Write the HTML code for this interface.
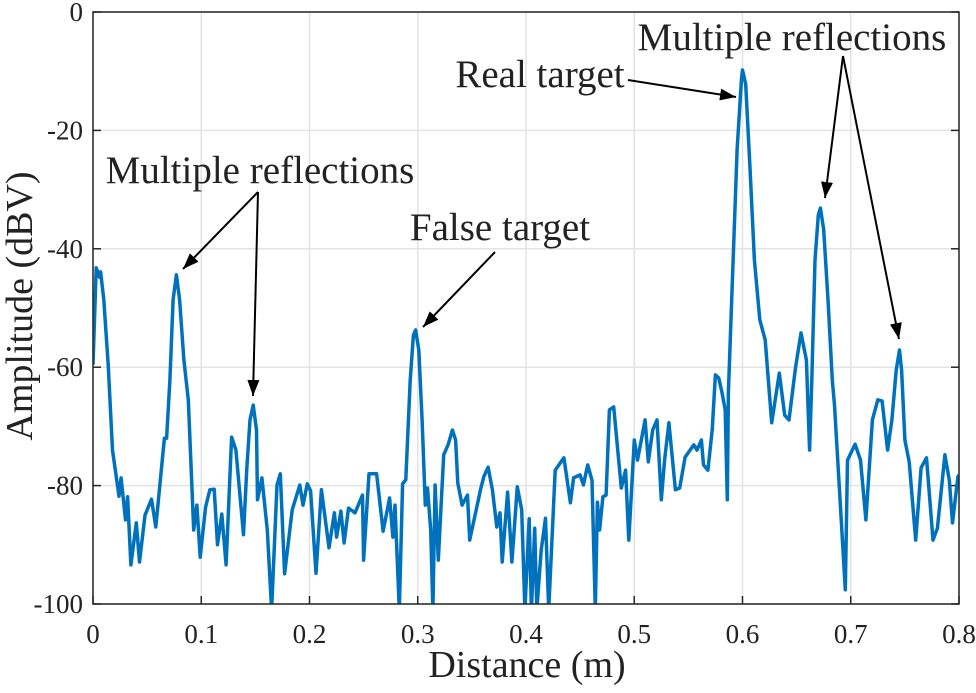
<!DOCTYPE html>
<html><head><meta charset="utf-8"><style>
body{margin:0;background:#fff}
svg text{font-family:"Liberation Serif",serif;fill:#222}
</style></head><body>
<svg id="chart" width="976" height="688" viewBox="0 0 976 688" xmlns="http://www.w3.org/2000/svg">
<defs>
<clipPath id="clip"><rect x="93" y="12" width="866" height="592"/></clipPath>
<marker id="ah" markerWidth="16" markerHeight="12" refX="16" refY="6" orient="auto" markerUnits="userSpaceOnUse"><path d="M0,0 L16,6 L0,12 Z" fill="#000"/></marker>
</defs>
<g id="grid"></g>
<g id="ticks"></g>
<path id="series" fill="none" stroke="#0072BD" stroke-width="3.5" stroke-linejoin="round" clip-path="url(#clip)"/>
<rect x="93" y="12" width="866" height="592" fill="none" stroke="#262626" stroke-width="1.5"/>
<text x="527" y="677" font-size="38" text-anchor="middle">Distance (m)</text>
<text transform="translate(32,306) rotate(-90)" font-size="38" text-anchor="middle">Amplitude (dBV)</text>
<g>
<text x="260" y="183" text-anchor="middle" font-size="39">Multiple reflections</text>
<text x="500" y="240" text-anchor="middle" font-size="39">False target</text>
<text x="540" y="87" text-anchor="middle" font-size="39">Real target</text>
<text x="792" y="50" text-anchor="middle" font-size="39">Multiple reflections</text>
<g stroke="#000" stroke-width="2" marker-end="url(#ah)">
<line x1="258" y1="192" x2="183" y2="269"/>
<line x1="258" y1="192" x2="253" y2="396"/>
<line x1="495" y1="252" x2="423" y2="327"/>
<line x1="628" y1="80" x2="736" y2="97"/>
<line x1="843" y1="56" x2="825" y2="198"/>
<line x1="843" y1="56" x2="899" y2="339"/>
</g></g>
</svg>
<script>
const xTicks=[0,0.1,0.2,0.3,0.4,0.5,0.6,0.7,0.8];
const xTickLabels=["0","0.1","0.2","0.3","0.4","0.5","0.6","0.7","0.8"];
const yTicks=[0,-20,-40,-60,-80,-100];
const yTickLabels=["0","-20","-40","-60","-80","-100"];
const distance=[0,0.003,0.006,0.007,0.010,0.014,0.018,0.024,0.026,0.030,0.032,0.035,0.040,0.043,0.048,0.054,0.058,0.066,0.068,0.071,0.074,0.077,0.080,0.084,0.088,0.093,0.096,0.099,0.104,0.108,0.112,0.115,0.119,0.123,0.128,0.132,0.139,0.142,0.145,0.148,0.151,0.152,0.156,0.161,0.165,0.170,0.173,0.177,0.184,0.191,0.194,0.198,0.201,0.206,0.211,0.218,0.223,0.225,0.229,0.232,0.236,0.242,0.249,0.250,0.255,0.262,0.268,0.274,0.277,0.279,0.283,0.286,0.289,0.293,0.296,0.298,0.301,0.304,0.307,0.309,0.312,0.314,0.316,0.319,0.324,0.328,0.332,0.335,0.337,0.341,0.346,0.348,0.354,0.358,0.361,0.365,0.369,0.373,0.376,0.378,0.383,0.387,0.392,0.396,0.399,0.403,0.405,0.408,0.410,0.414,0.418,0.421,0.427,0.435,0.441,0.444,0.450,0.453,0.457,0.461,0.464,0.466,0.468,0.471,0.474,0.477,0.481,0.488,0.492,0.495,0.500,0.503,0.510,0.513,0.517,0.521,0.525,0.528,0.532,0.538,0.542,0.547,0.555,0.558,0.562,0.564,0.568,0.572,0.575,0.578,0.581,0.584,0.586,0.587,0.590,0.595,0.599,0.600,0.603,0.607,0.611,0.616,0.621,0.627,0.634,0.639,0.643,0.649,0.654,0.659,0.662,0.664,0.667,0.670,0.672,0.675,0.679,0.683,0.685,0.692,0.695,0.697,0.704,0.709,0.714,0.720,0.725,0.729,0.734,0.738,0.742,0.745,0.747,0.750,0.754,0.760,0.765,0.770,0.776,0.780,0.787,0.791,0.794,0.799,0.800];
const amplitude=[-59.6,-43.2,-44.8,-43.9,-48.6,-59.6,-74,-81.8,-78.7,-85.8,-81.9,-93.4,-86.3,-92.9,-85,-82.3,-87,-72,-72,-62.2,-48.6,-44.4,-48.6,-58.8,-65.5,-87.5,-83.3,-92.1,-83.6,-80.7,-80.6,-90,-84.8,-93.4,-71.8,-74,-88.3,-77.4,-68.9,-66.4,-70.6,-82.4,-78.7,-87.5,-101,-79.9,-78,-94.9,-84.1,-79.9,-83.3,-79.7,-80.9,-94.8,-80.7,-90.5,-84.6,-88.7,-84.3,-89.7,-83.8,-84.6,-81.6,-92.6,-78,-78,-87.7,-82.1,-88.7,-83.3,-101,-79.7,-79,-62.2,-54.6,-53.7,-57.1,-68.9,-83.3,-80.4,-87.5,-101,-79.9,-92.6,-74.8,-73.1,-70.6,-72.3,-79.6,-83.3,-81.6,-89.2,-84.1,-80.7,-78.5,-76.9,-80.7,-87,-84.6,-92.9,-81.1,-92.9,-80.2,-84.1,-101,-85.6,-101,-87.2,-101,-90.9,-85.5,-101,-77.4,-75.3,-82.9,-78.7,-78.2,-79.9,-76.5,-79.1,-101,-82.8,-87.5,-81.9,-81.6,-67.2,-66.7,-80.4,-77.4,-89.2,-72.3,-75.7,-68.9,-76,-70.6,-68.9,-82.4,-75.7,-69.4,-80.7,-80.4,-75.2,-73.1,-74,-72.3,-76.5,-77.4,-70.6,-61.3,-61.8,-64.2,-67.2,-82.4,-64.2,-48.6,-23.3,-11.5,-9.8,-12.2,-26.7,-41.9,-52,-55.4,-69.4,-61,-68.1,-68.9,-60.1,-54.2,-58.8,-74,-62.2,-41.9,-34.3,-33.1,-36.8,-48.6,-62.2,-66.4,-88.3,-97.6,-75.7,-73,-75.7,-85.8,-68.9,-65.5,-65.7,-74,-68.9,-60.5,-57.1,-60.5,-72.3,-76,-89.2,-77,-75.3,-89.2,-87.2,-74.8,-79.1,-86.3,-78.5,-78.2];
const NS="http://www.w3.org/2000/svg";
const X0=93,X1=959,Y0=12,Y1=604;
function xs(d){return X0+(d-0)/(0.8-0)*(X1-X0);}
function ys(a){return Y0+(0-a)/(0-(-100))*(Y1-Y0);}
const grid=document.getElementById('grid'),ticks=document.getElementById('ticks');
function mk(t,attrs,parent){const e=document.createElementNS(NS,t);for(const k in attrs)e.setAttribute(k,attrs[k]);parent.appendChild(e);return e;}
xTicks.forEach((v,i)=>{
  const x=xs(v);
  const g=mk('line',{x1:x,x2:x,y1:Y0,y2:Y1,stroke:'#e3e3e3','stroke-width':1.5},grid);
  
  
  const t=mk('line',{x1:x,x2:x,y1:Y1,y2:Y1-8,stroke:'#262626','stroke-width':1.5},ticks);
  
  
  const l=mk('text',{x:x,y:643,'font-size':27,'text-anchor':'middle'},ticks);
  l.textContent=xTickLabels[i];
  
  
});
yTicks.forEach((v,i)=>{
  const y=ys(v);
  const g=mk('line',{x1:X0,x2:X1,y1:y,y2:y,stroke:'#e3e3e3','stroke-width':1.5},grid);
  
  
  const t=mk('line',{x1:X0,x2:X0+8,y1:y,y2:y,stroke:'#262626','stroke-width':1.5},ticks);
  
  
  const t2=mk('line',{x1:X1,x2:X1-8,y1:y,y2:y,stroke:'#262626','stroke-width':1.5},ticks);
  
  
  const l=mk('text',{x:83,y:y+9,'font-size':27,'text-anchor':'end'},ticks);
  l.textContent=yTickLabels[i];
  
  
});
let d='';
distance.forEach((v,i)=>{d+=(i?'L':'M')+xs(v).toFixed(1)+','+ys(amplitude[i]).toFixed(1);});
document.getElementById('series').setAttribute('d',d);
</script>
</body></html>
